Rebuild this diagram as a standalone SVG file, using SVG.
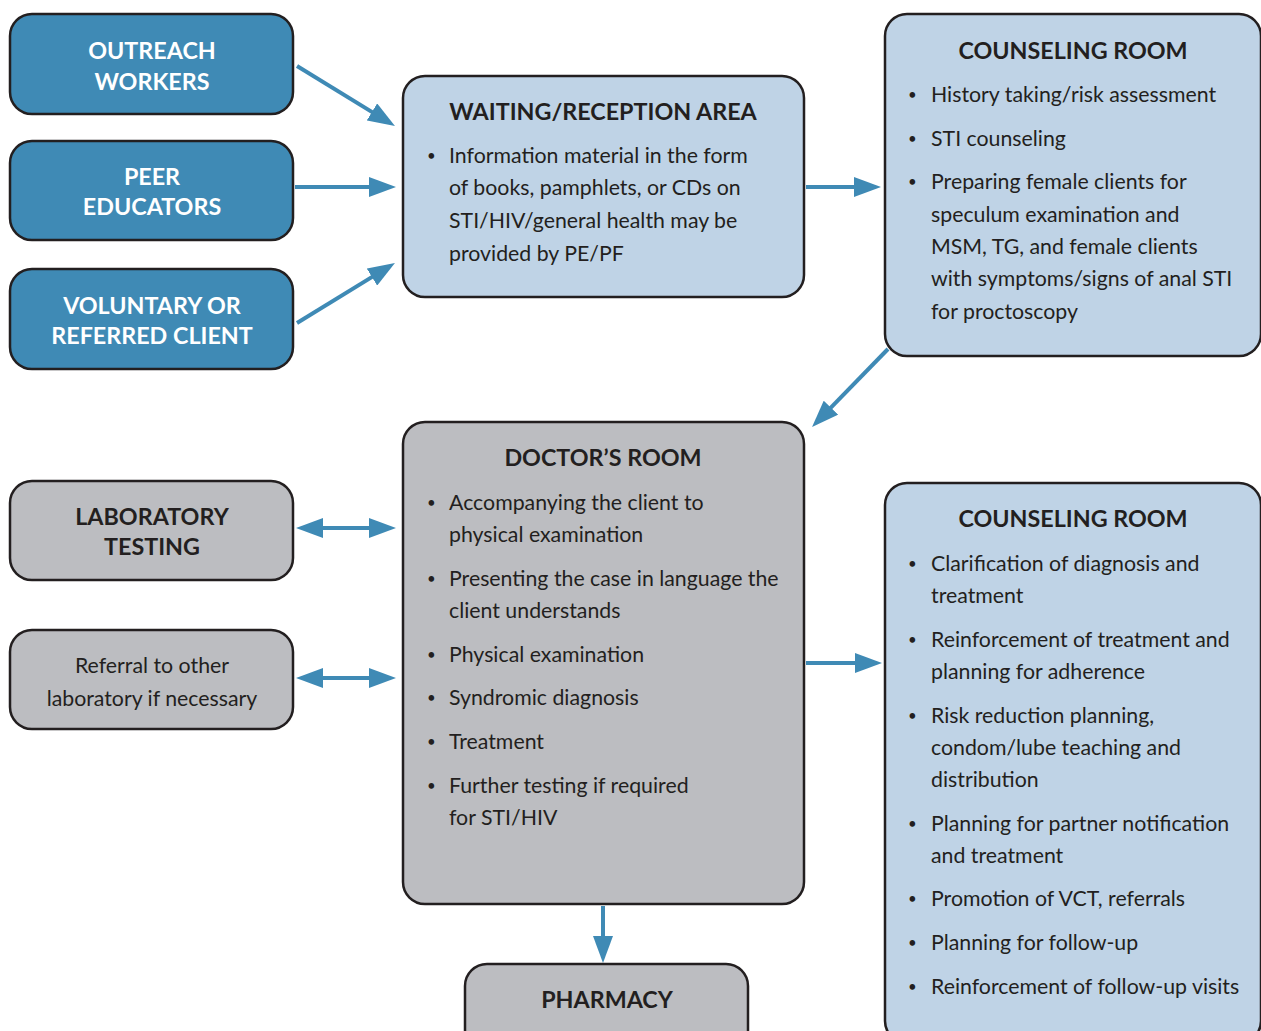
<svg xmlns="http://www.w3.org/2000/svg" width="1261" height="1031" viewBox="0 0 1261 1031">
<style>
.box{stroke:#231f20;stroke-width:2.5}
.dark{fill:#3f8ab5}
.light{fill:#bfd3e6}
.grey{fill:#bcbdc1}
.t{font-family:Lato,"Liberation Sans",sans-serif;fill:#231f20}
.h{font-weight:bold;font-size:23.3px;text-anchor:middle}
.w{fill:#ffffff}
.b{font-size:21.3px}
.d{font-size:15px}
.c{stroke:#3f8ab5;stroke-width:4;fill:none}
</style>
<defs>
<marker id="ah" markerUnits="userSpaceOnUse" markerWidth="27" markerHeight="20" refX="7" refY="10" orient="auto-start-reverse">
<path d="M0,0 L27,10 L0,20 z" fill="#3f8ab5"/>
</marker>
</defs>
<rect width="1261" height="1031" fill="#ffffff"/>

<g id="connectors">
<line class="c" x1="297" y1="66" x2="377.9" y2="115.6" marker-end="url(#ah)"/>
<line class="c" x1="295" y1="187" x2="376" y2="187" marker-end="url(#ah)"/>
<line class="c" x1="297" y1="323" x2="377.9" y2="273.4" marker-end="url(#ah)"/>
<line class="c" x1="806" y1="187" x2="861" y2="187" marker-end="url(#ah)"/>
<line class="c" x1="888" y1="349" x2="826" y2="412.7" marker-end="url(#ah)"/>
<line class="c" x1="806" y1="663" x2="862" y2="663" marker-end="url(#ah)"/>
<line class="c" x1="603" y1="906" x2="603" y2="943" marker-end="url(#ah)"/>
<line class="c" x1="316" y1="528" x2="376" y2="528" marker-start="url(#ah)" marker-end="url(#ah)"/>
<line class="c" x1="316" y1="678" x2="376" y2="678" marker-start="url(#ah)" marker-end="url(#ah)"/>
</g>

<g id="outreach">
<rect class="box dark" x="10" y="14" width="283" height="100" rx="22"/>
<text class="t h w" x="152" y="59">OUTREACH</text>
<text class="t h w" x="152" y="90">WORKERS</text>
</g>
<g id="peer">
<rect class="box dark" x="10" y="141" width="283" height="99" rx="22"/>
<text class="t h w" x="152" y="185">PEER</text>
<text class="t h w" x="152" y="215">EDUCATORS</text>
</g>
<g id="voluntary">
<rect class="box dark" x="10" y="269" width="283" height="100" rx="22"/>
<text class="t h w" x="152" y="314">VOLUNTARY OR</text>
<text class="t h w" x="152" y="344">REFERRED CLIENT</text>
</g>

<g id="waiting">
<rect class="box light" x="403" y="76" width="401" height="221" rx="22"/>
<text class="t h" x="603" y="120">WAITING/RECEPTION AREA</text>
<g class="t b">
<text class="d" x="427" y="161">•</text>
<text x="449" y="163">Information material in the form</text>
<text x="449" y="195">of books, pamphlets, or CDs on</text>
<text x="449" y="228">STI/HIV/general health may be</text>
<text x="449" y="261">provided by PE/PF</text>
</g>
</g>

<g id="counseling1">
<rect class="box light" x="885" y="14" width="376" height="342" rx="22"/>
<text class="t h" x="1073" y="59">COUNSELING ROOM</text>
<g class="t b">
<text class="d" x="908" y="100">•</text>
<text x="931" y="102">History taking/risk assessment</text>
<text class="d" x="908" y="144">•</text>
<text x="931" y="146">STI counseling</text>
<text class="d" x="908" y="187">•</text>
<text x="931" y="189">Preparing female clients for</text>
<text x="931" y="222">speculum examination and</text>
<text x="931" y="254">MSM, TG, and female clients</text>
<text x="931" y="286">with symptoms/signs of anal STI</text>
<text x="931" y="319">for proctoscopy</text>
</g>
</g>

<g id="doctor">
<rect class="box grey" x="403" y="422" width="401" height="482" rx="22"/>
<text class="t h" x="603" y="466">DOCTOR’S ROOM</text>
<g class="t b">
<text class="d" x="427" y="508">•</text>
<text x="449" y="510">Accompanying the client to</text>
<text x="449" y="542">physical examination</text>
<text class="d" x="427" y="584">•</text>
<text x="449" y="586">Presenting the case in language the</text>
<text x="449" y="618">client understands</text>
<text class="d" x="427" y="660">•</text>
<text x="449" y="662">Physical examination</text>
<text class="d" x="427" y="703">•</text>
<text x="449" y="705">Syndromic diagnosis</text>
<text class="d" x="427" y="747">•</text>
<text x="449" y="749">Treatment</text>
<text class="d" x="427" y="791">•</text>
<text x="449" y="793">Further testing if required</text>
<text x="449" y="825">for STI/HIV</text>
</g>
</g>

<g id="lab">
<rect class="box grey" x="10" y="481" width="283" height="99" rx="22"/>
<text class="t h" x="152" y="525">LABORATORY</text>
<text class="t h" x="152" y="555">TESTING</text>
</g>
<g id="referral">
<rect class="box grey" x="10" y="630" width="283" height="99" rx="22"/>
<text class="t b" x="152" y="673" text-anchor="middle">Referral to other</text>
<text class="t b" x="152" y="706" text-anchor="middle">laboratory if necessary</text>
</g>

<g id="counseling2">
<rect class="box light" x="885" y="483" width="376" height="560" rx="22"/>
<text class="t h" x="1073" y="527">COUNSELING ROOM</text>
<g class="t b">
<text class="d" x="908" y="569">•</text>
<text x="931" y="571">Clarification of diagnosis and</text>
<text x="931" y="603">treatment</text>
<text class="d" x="908" y="645">•</text>
<text x="931" y="647">Reinforcement of treatment and</text>
<text x="931" y="679">planning for adherence</text>
<text class="d" x="908" y="721">•</text>
<text x="931" y="723">Risk reduction planning,</text>
<text x="931" y="755">condom/lube teaching and</text>
<text x="931" y="787">distribution</text>
<text class="d" x="908" y="829">•</text>
<text x="931" y="831">Planning for partner notification</text>
<text x="931" y="863">and treatment</text>
<text class="d" x="908" y="904">•</text>
<text x="931" y="906">Promotion of VCT, referrals</text>
<text class="d" x="908" y="948">•</text>
<text x="931" y="950">Planning for follow-up</text>
<text class="d" x="908" y="992">•</text>
<text x="931" y="994">Reinforcement of follow-up visits</text>
</g>
</g>

<g id="pharmacy">
<rect class="box grey" x="465" y="964" width="283" height="90" rx="22"/>
<text class="t h" x="607" y="1008">PHARMACY</text>
</g>
</svg>
